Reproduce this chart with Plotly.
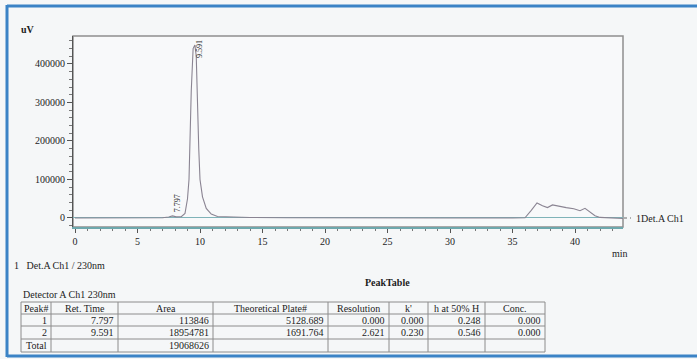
import plotly.graph_objects as go

W, H = 697, 359

# Chromatogram: retention time (min) vs detector signal (uV)
time_min = [0.0, 3.0, 6.0, 7.0, 7.5, 7.797, 8.1, 8.5, 8.8, 9.0, 9.12, 9.2, 9.3, 9.45,
            9.591, 9.7, 9.8, 9.9, 10.0, 10.2, 10.5, 10.9, 11.4, 12.5, 14.0, 17.0,
            20.0, 30.0, 35.0, 36.0, 36.5, 36.96, 37.4, 37.8, 38.2, 38.7, 39.3, 39.9,
            40.4, 40.8, 41.2, 41.6, 42.0, 42.5, 43.0, 43.5, 43.84]
signal_uv = [0, 0, 300, 600, 2500, 5500, 3000, 3500, 12000, 50000, 100000, 200000,
             330000, 440000, 449000, 420000, 260000, 180000, 100000, 55000, 25000,
             10000, 4000, 2500, 1200, 500, 0, 0, 0, 500, 20000, 39000, 32000, 27000,
             34000, 30000, 27000, 24000, 19000, 25000, 15000, 6000, 1500, 500, 0, 0,
             -1500]

# Labelled peaks (retention times)
peak_times = [7.797, 9.591]
peak_labels = ["7.797", "9.591"]

x_tick_vals = [0, 5, 10, 15, 20, 25, 30, 35, 40]
y_tick_vals = [0, 100000, 200000, 300000, 400000]

# Peak table
table_header = ["Peak#", "Ret. Time", "Area", "Theoretical Plate#", "Resolution",
                "k'", "h at 50% H", "Conc."]
row_peak1 = ["1", "7.797", "113846", "5128.689", "0.000", "0.000", "0.248", "0.000"]
row_peak2 = ["2", "9.591", "18954781", "1691.764", "2.621", "0.230", "0.546", "0.000"]
row_total = ["Total", "", "19068626", "", "", "", "", ""]

SERIF = "Liberation Serif"
INK = "#1c1c1c"


def px(x):
    return x / W


def py(y):
    return 1 - y / H


fig = go.Figure()

fig.add_trace(go.Scatter(
    x=time_min, y=signal_uv, mode="lines",
    line=dict(color="#8a8492", width=1.1),
    hoverinfo="skip", showlegend=False,
))

annotations = []

# peak retention-time labels, rotated next to each apex
apex = {t: s for t, s in zip(time_min, signal_uv)}
label_offsets = {7.797: (5, 13), 9.591: (4, -4)}
for t, lab in zip(peak_times, peak_labels):
    dx, dy = label_offsets[t]
    annotations.append(dict(
        x=t, y=apex[t], xref="x", yref="y", text=lab, showarrow=False,
        textangle=-90, xshift=dx, yshift=dy, xanchor="center", yanchor="middle",
        font=dict(family=SERIF, size=8, color=INK),
    ))


def text_at(x, y, s, size=10, anchor="left", bold=False):
    annotations.append(dict(
        x=px(x), y=py(y), xref="paper", yref="paper",
        text=f"<b>{s}</b>" if bold else s, showarrow=False,
        xanchor=anchor, yanchor="middle",
        font=dict(family=SERIF, size=size, color=INK),
    ))


text_at(19, 30, "uV", bold=True)
text_at(620, 253, "min", anchor="center")
text_at(634, 218, "1Det.A Ch1")
text_at(12, 265, "1&nbsp;&nbsp;&nbsp;Det.A Ch1 / 230nm")
text_at(363, 282, "PeakTable", bold=True)
text_at(21, 294, "Detector A Ch1 230nm")

shapes = []

# outer blue panel border
for x0, y0, x1, y1 in [(7, 5, 7, 357), (7, 6, 697, 6), (7, 356, 697, 356)]:
    shapes.append(dict(type="line", xref="paper", yref="paper",
                       x0=px(x0), y0=py(y0), x1=px(x1), y1=py(y1),
                       line=dict(color="#3b83c6", width=3)))

# plot frame (top/right edges)
shapes.append(dict(type="rect", xref="x domain", yref="y domain", x0=0, y0=0, x1=1, y1=1,
                   line=dict(color="#8f8f8f", width=1.5), layer="below"))

# channel marker leader to the right-hand label
shapes.append(dict(type="line", xref="paper", yref="paper",
                   x0=px(624), y0=py(218), x1=px(631), y1=py(218),
                   line=dict(color="#666", width=1, dash="dot")))

# table grid
col_edges = [21, 51, 118, 213, 328, 389, 428, 485, 545]
row_edges = [302, 314, 326, 339, 352]
grid = dict(color="#8c8c8c", width=1)
for xe in col_edges:
    shapes.append(dict(type="line", xref="paper", yref="paper",
                       x0=px(xe), y0=py(row_edges[0]), x1=px(xe), y1=py(row_edges[-1]),
                       line=grid))
for ye in row_edges:
    shapes.append(dict(type="line", xref="paper", yref="paper",
                       x0=px(col_edges[0]), y0=py(ye), x1=px(col_edges[-1]), y1=py(ye),
                       line=grid))

# table text
for i, head in enumerate(table_header):
    cx = (col_edges[i] + col_edges[i + 1]) / 2
    cy = (row_edges[0] + row_edges[1]) / 2
    text_at(cx, cy, head, anchor="center")

for r, row in enumerate([row_peak1, row_peak2, row_total]):
    cy = (row_edges[r + 1] + row_edges[r + 2]) / 2
    for i, cell in enumerate(row):
        if cell:
            text_at(col_edges[i + 1] - 2, cy, cell, anchor="right")

fig.update_layout(
    width=W, height=H,
    margin=dict(l=0, r=0, t=0, b=0),
    paper_bgcolor="#f5f7f8",
    plot_bgcolor="#f8f9fa",
    showlegend=False,
    annotations=annotations,
    shapes=shapes,
    xaxis=dict(
        domain=[px(73), px(623)],
        range=[-0.16, 43.84],
        tickvals=x_tick_vals,
        ticks="outside", ticklen=4, tickcolor="#555",
        minor=dict(dtick=1, ticks="outside", ticklen=2, tickcolor="#777"),
        showgrid=False, zeroline=False,
        showline=True, linecolor="#6ea8ad", linewidth=1.5,
        tickfont=dict(family=SERIF, size=10, color=INK),
    ),
    yaxis=dict(
        domain=[py(227), py(36)],
        range=[-23400, 472700],
        tickvals=y_tick_vals,
        tickformat="d",
        ticks="outside", ticklen=5, tickcolor="#555",
        minor=dict(dtick=20000, ticks="outside", ticklen=3, tickcolor="#777"),
        showgrid=False,
        zeroline=True, zerolinecolor="#7fb3b8", zerolinewidth=1,
        showline=True, linecolor="#555", linewidth=1,
        tickfont=dict(family=SERIF, size=10, color=INK),
    ),
)

fig.write_html("out.html")
